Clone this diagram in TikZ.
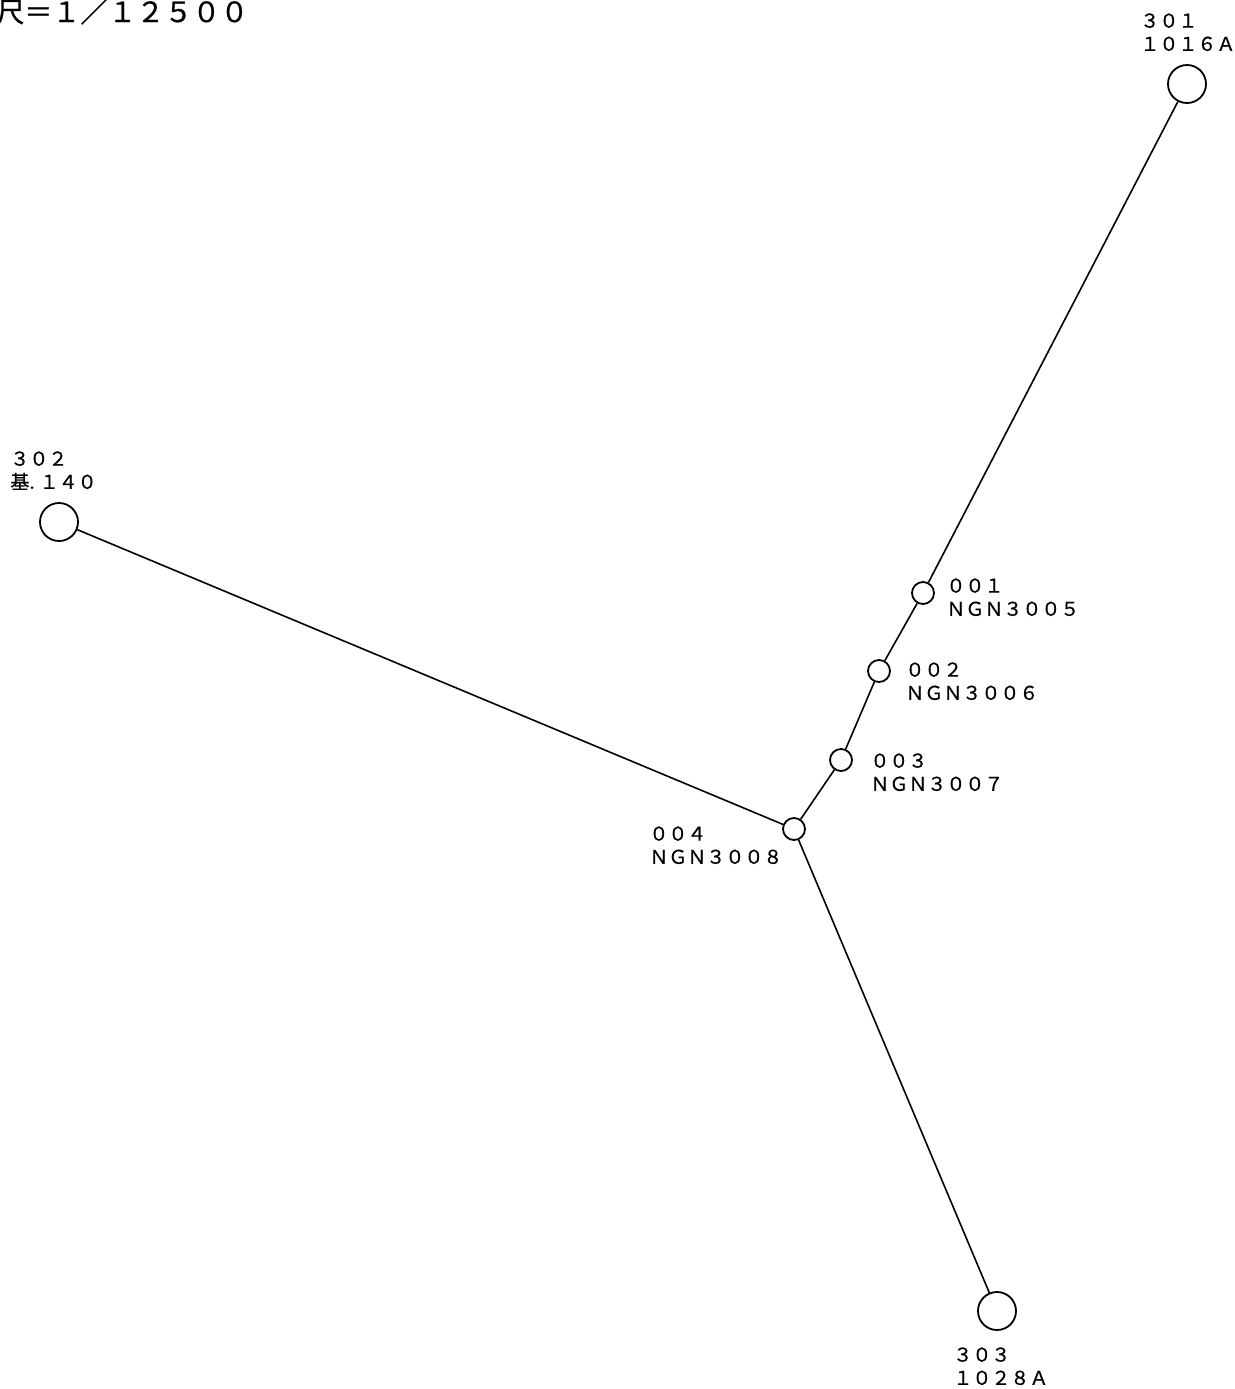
\documentclass[tikz,border=0pt]{standalone}
\usepackage{fontspec}
\setmainfont{Noto Sans CJK JP}[FakeBold=0.6]
\usepackage{tikz}

\tikzset{
    bigstn/.style={draw,circle,line width=0.9pt,minimum size=19pt,inner sep=0pt},
    smallstn/.style={draw,circle,line width=0.9pt,minimum size=11pt,inner sep=0pt},
    stnlabel/.style={anchor=north west,inner sep=0pt,align=left,
        font=\fontsize{9.5}{11.6}\selectfont},
    route/.style={line width=0.8pt}
}

\begin{document}
\begin{tikzpicture}[x=0.5pt,y=-0.5pt]
        \useasboundingbox[fill=white] (0,0) rectangle (1235,1389);

        % scale
        \node[anchor=north west,inner sep=0pt,font=\fontsize{14}{16}\selectfont] (scale) at (-4,-2) {尺＝１／１２５００};

        % stations
        \node[bigstn] (s301) at (1187,84) {};
        \node[bigstn] (s302) at (59,522) {};
        \node[bigstn] (s303) at (997,1311) {};
        \node[smallstn] (s001) at (923,593) {};
        \node[smallstn] (s002) at (879,671) {};
        \node[smallstn] (s003) at (841,760) {};
        \node[smallstn] (s004) at (794,829) {};

        % labels
        \node[stnlabel] (l301) at (1140,13) {３０１\\１０１６Ａ};
        \node[stnlabel] (l302) at (10,451) {３０２\\基.\hspace{2.5pt}１４０};
        \node[stnlabel] (l303) at (953,1347) {３０３\\１０２８Ａ};
        \node[stnlabel] (l001) at (946,578) {００１\\ＮＧＮ３００５};
        \node[stnlabel] (l002) at (905,662) {００２\\ＮＧＮ３００６};
        \node[stnlabel] (l003) at (870,753) {００３\\ＮＧＮ３００７};
        \node[stnlabel] (l004) at (649,826) {００４\\ＮＧＮ３００８};

        % lines
        \draw[route] (s301) -- (s001);
        \draw[route] (s001) -- (s002);
        \draw[route] (s002) -- (s003);
        \draw[route] (s003) -- (s004);
        \draw[route] (s004) -- (s302);
        \draw[route] (s004) -- (s303);
    \end{tikzpicture}
\end{document}
